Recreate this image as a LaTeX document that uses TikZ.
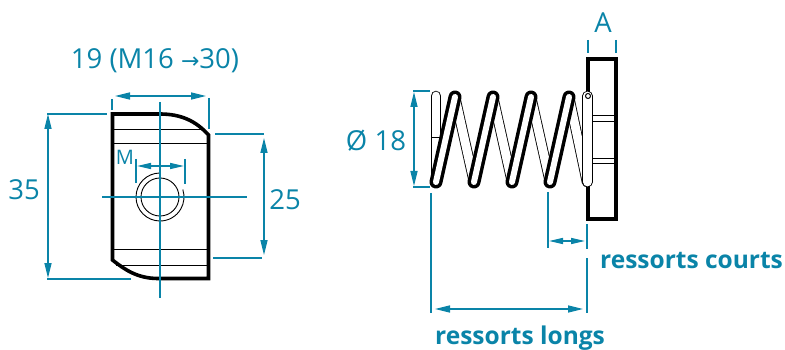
\documentclass[tikz,border=0pt]{standalone}
\usepackage{fontspec}
\setmainfont{Open Sans}
\newfontfamily\symbfont{DejaVu Sans}
\usetikzlibrary{arrows.meta}
\definecolor{cote}{HTML}{0A84A8}
\tikzset{
  ext/.style={draw=cote,line width=1.5pt},
  dim/.style={draw=cote,line width=1.5pt,{Stealth[length=15pt,width=7pt,inset=0pt]}-{Stealth[length=15pt,width=7pt,inset=0pt]}},
  dimshort/.style={draw=cote,line width=1.5pt,{Stealth[length=14pt,width=6pt,inset=0pt]}-{Stealth[length=14pt,width=6pt,inset=0pt]}},
  lbl/.style={text=cote,inner sep=0pt,font=\fontsize{27.5}{30}\selectfont},
  lblsmall/.style={text=cote,inner sep=0pt,font=\fontsize{20}{24}\selectfont},
  lblbold/.style={text=cote,inner sep=0pt,font=\fontsize{24.5}{30}\selectfont\bfseries},
  piece/.style={draw=black,line width=3.6pt,miter limit=4},
  fine/.style={draw=black,line width=0.9pt},
}
\newcommand{\frontcoil}[4]{
\path[draw=black,line width=13pt,line cap=round] (#1,#2) -- (#3,#4);
\path[draw=white,line width=6pt,line cap=round] (#1,#2) -- (#3,#4);
}
\newcommand{\backcoil}[4]{
\path[draw=black,line width=10.5pt,line cap=round] (#1,#2) -- (#3,#4);
\path[draw=white,line width=8.8pt,line cap=round] (#1,#2) -- (#3,#4);
}
\begin{document}
\begin{tikzpicture}[x=1pt,y=-1pt]
\useasboundingbox (0,0) rectangle (785,350);
\path[piece] (112.5,114) -- (160,114) .. controls (181,114) and (196,121) .. (208.5,135) -- (208.5,278.5) -- (158,278.5) .. controls (138,278.5) and (125,270) .. (112.5,260) -- cycle;
\path[fine] (112,129) -- (205,129);
\path[fine] (112,143) -- (208,143);
\path[fine] (112,249) -- (208,249);
\path[fine] (116,265) -- (208,265);
\path[fine] (160,197) circle (19);
\path[fine] (160,173) arc (270:-18:24);
\path[ext] (160,102) -- (160,298);
\path[ext] (102,197) -- (247,197);
\coordinate (w1) at (115,96);
\coordinate (w2) at (206,96);
\coordinate (h1) at (48,114);
\coordinate (h2) at (48,278);
\coordinate (s1) at (264,138);
\coordinate (s2) at (264,255);
\coordinate (m1) at (137,166);
\coordinate (m2) at (184,166);
\path[dim] (w1) -- (w2);
\path[dim] (h1) -- (h2);
\path[dim] (s1) -- (s2);
\path[dimshort] (m1) -- (m2);
\path[ext] (112,99) -- (112,110);
\path[ext] (209,98) -- (209,129);
\path[ext] (47,114) -- (107,114);
\path[ext] (47,279) -- (131,279);
\path[ext] (215,134) -- (264,134);
\path[ext] (213,258) -- (262,258);
\path[ext] (136,159) -- (136,183);
\path[ext] (185,159) -- (185,184);
\node[lbl] (largeur) at (155,61) {19 (M16 {\fontsize{22}{24}\selectfont\symbfont →}30)};
\node[lbl] (hauteur) at (24,190) {35};
\node[lbl] (portee) at (285,200) {25};
\node[lblsmall] (taraud) at (125,157) {M};
\path[piece] (588,59) rectangle (616,219);
\path[fine] (593,115) -- (614,115);
\path[fine] (593,121) -- (614,121);
\path[fine] (593,158) -- (614,158);
\path[fine] (593,163) -- (614,163);
\backcoil{436}{96}{436}{182}
\path[draw=black,line width=1pt] (431,138) -- (441,138);
\backcoil{455}{97}{474}{182}
\backcoil{493}{97}{512}{182}
\backcoil{531}{97}{550}{182}
\backcoil{569}{97}{587}{182}
\backcoil{587.5}{96}{587.5}{182}
\path[draw=black,line width=1pt] (588,96) circle (2.5);
\frontcoil{436}{182}{455}{97}
\frontcoil{474}{182}{493}{97}
\frontcoil{512}{182}{531}{97}
\frontcoil{550}{182}{569}{97}
\coordinate (d1) at (414,92);
\coordinate (d2) at (414,186);
\coordinate (c1) at (549,241);
\coordinate (c2) at (585,241);
\coordinate (l1) at (435,309);
\coordinate (l2) at (583,309);
\path[dim] (d1) -- (d2);
\path[dimshort] (c1) -- (c2);
\path[dim] (l1) -- (l2);
\path[ext] (413,91) -- (430,91);
\path[ext] (413,187) -- (430,187);
\path[ext] (588,40) -- (588,53);
\path[ext] (616,40) -- (616,53);
\path[ext] (431,193) -- (431,313);
\path[ext] (548,192) -- (548,248);
\path[ext] (587,224) -- (587,249);
\path[ext] (587,258) -- (587,313);
\node[lbl] (diametre) at (376,141) {Ø 18};
\node[lbl] (epaisseur) at (603,23) {A};
\node[lblbold,anchor=base west] (courts) at (600,268) {ressorts courts};
\node[lblbold,anchor=base west] (longs) at (435,344) {ressorts longs};
\end{tikzpicture}
\end{document}
